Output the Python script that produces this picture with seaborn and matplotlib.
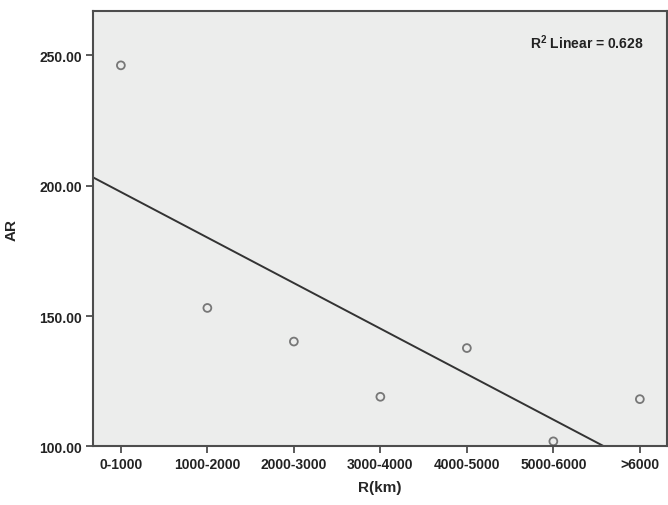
import numpy as np
import pandas as pd
import matplotlib.pyplot as plt
import seaborn as sns

# values
categories = ['0-1000', '1000-2000', '2000-3000', '3000-4000', '4000-5000', '5000-6000', '>6000']
ar_values = [246.2, 153.1, 140.2, 119.0, 137.7, 101.9, 118.1]
y_ticks = [100, 150, 200, 250]
r2_text = '0.628'

df = pd.DataFrame({'pos': np.arange(len(categories)), 'AR': ar_values})

sns.set_style('white')
plt.rcParams['font.family'] = ['Liberation Sans', 'DejaVu Sans']
plt.rcParams['font.weight'] = 'bold'
plt.rcParams['mathtext.fontset'] = 'custom'
plt.rcParams['mathtext.rm'] = 'Liberation Sans:bold'
plt.rcParams['mathtext.default'] = 'rm'

edge = '#4d4d4d'
fig = plt.figure(figsize=(6.68, 5.06), dpi=100)
ax = fig.add_axes([0.139, 0.116, 0.859, 0.86])
ax.set_facecolor('#ecedec')
ax.set_xlim(-0.324, 6.31)
ax.set_ylim(100, 267.0)

# regression line over the full axis width, hollow points
sns.regplot(data=df, x='pos', y='AR', ax=ax, ci=None, truncate=False,
            scatter_kws={'s': 32, 'facecolors': 'none', 'edgecolors': '#5a5a5a', 'linewidths': 1.3},
            line_kws={'color': '#333333', 'lw': 1.4})

ax.set_xticks(df['pos'])
ax.set_xticklabels(categories, fontsize=10, fontweight='bold', color='#222222')
ax.set_yticks(y_ticks)
ax.set_yticklabels([f'{v:.2f}' for v in y_ticks], fontsize=10, fontweight='bold', color='#222222')
ax.tick_params(axis='both', direction='out', length=5, width=1.3, color=edge, pad=3,
               bottom=True, left=True)

for s in ax.spines.values():
    s.set_color(edge)
    s.set_linewidth(1.5)

ax.set_xlabel('R(km)', fontsize=11, fontweight='bold', labelpad=6)
ax.set_ylabel('AR', fontsize=11, fontweight='bold')
ax.yaxis.set_label_coords(-0.13, 0.5)

ax.text(0.96, 0.93, 'R$^{2}$ Linear = ' + r2_text, transform=ax.transAxes,
        ha='right', va='center', fontsize=10, fontweight='bold', color='#222222')

fig.savefig('out.png', dpi=100)
